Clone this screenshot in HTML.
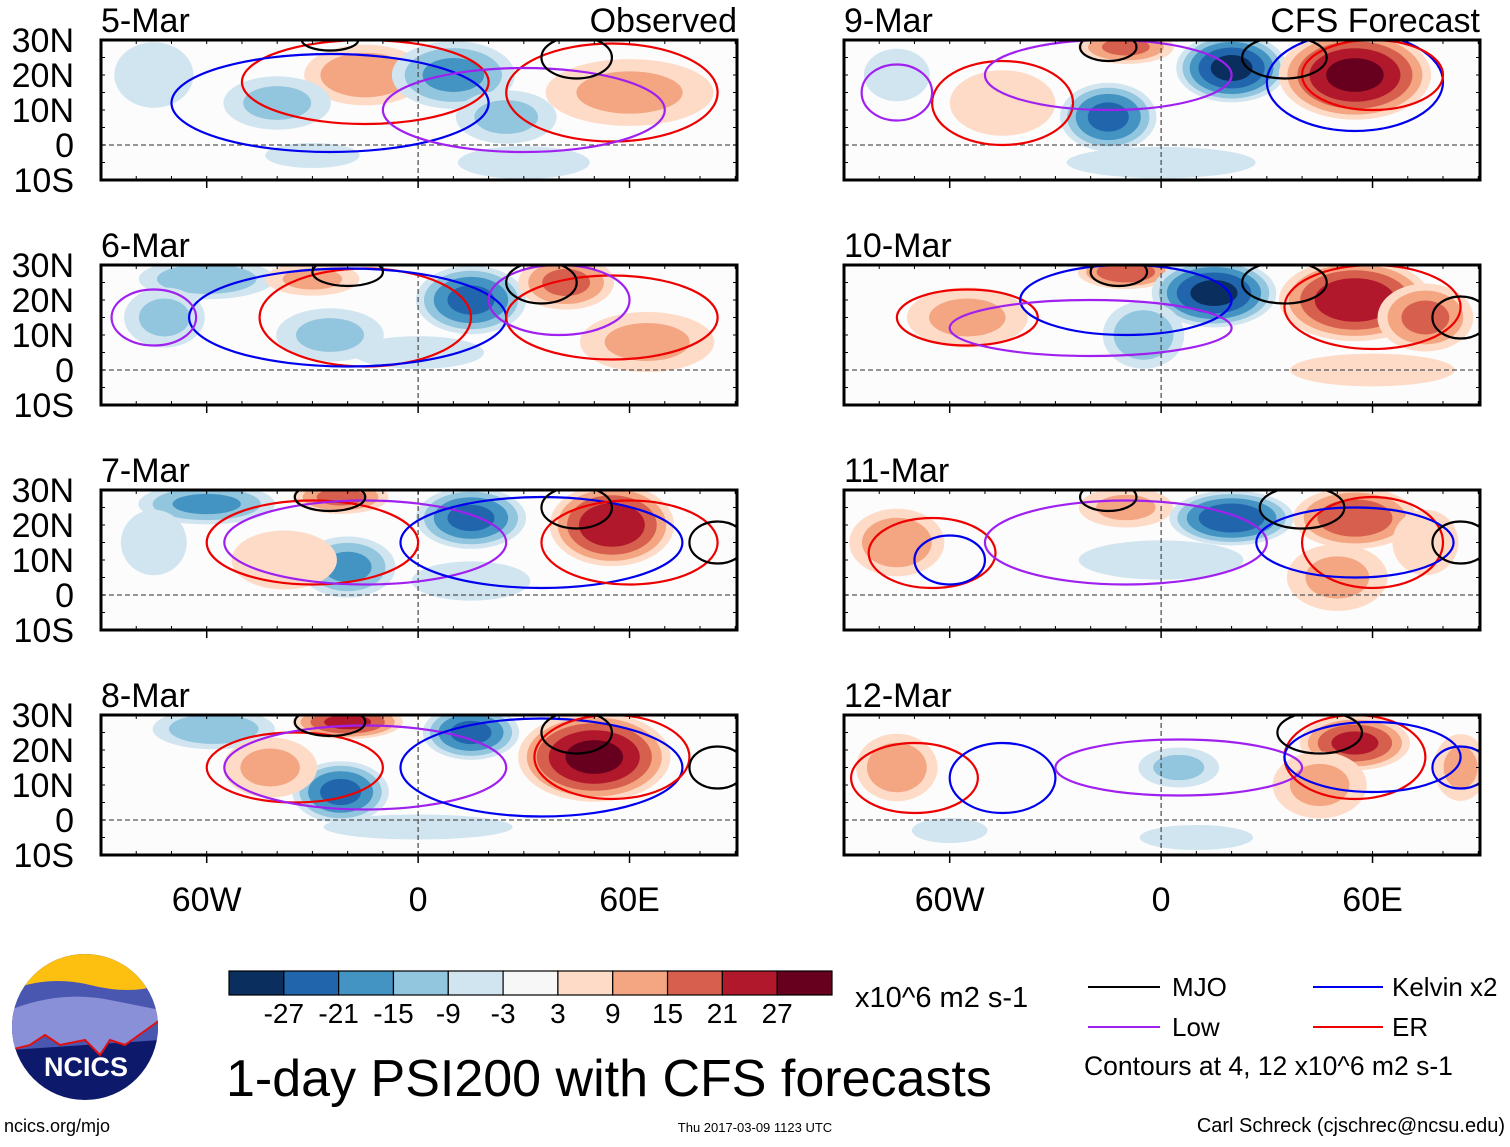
<!DOCTYPE html>
<html><head><meta charset="utf-8"><style>
body{margin:0;background:#fff;width:1510px;height:1142px;overflow:hidden;font-family:"Liberation Sans",sans-serif}
svg text{font-family:"Liberation Sans",sans-serif}
</style></head><body>
<svg id="fig" width="1510" height="1142" xmlns="http://www.w3.org/2000/svg">
<defs></defs>
<g id="panels"></g>
<g id="cbar"></g>
<text x="855" y="1007" font-size="29">x10^6 m2 s-1</text>
<text x="226" y="1096" font-size="52">1-day PSI200 with CFS forecasts</text>
<g font-size="26">
<line x1="1088" y1="987" x2="1160" y2="987" stroke="#000" stroke-width="2"/><text x="1172" y="996">MJO</text>
<line x1="1313" y1="987" x2="1383" y2="987" stroke="#0000ee" stroke-width="2"/><text x="1392" y="996">Kelvin x2</text>
<line x1="1088" y1="1027" x2="1160" y2="1027" stroke="#a020f0" stroke-width="2"/><text x="1172" y="1036">Low</text>
<line x1="1313" y1="1027" x2="1383" y2="1027" stroke="#ee0000" stroke-width="2"/><text x="1392" y="1036">ER</text>
<text x="1084" y="1075" font-size="26.5">Contours at 4, 12 x10^6 m2 s-1</text>
</g>
<g>
<clipPath id="lc"><circle cx="85" cy="1027" r="73"/></clipPath>
<g clip-path="url(#lc)">
<rect x="10" y="950" width="150" height="160" fill="#0d1a6b"/>
<rect x="10" y="950" width="150" height="40" fill="#fdbf10"/>
<path d="M10 990 Q50 975 90 985 T160 985 L160 1040 L10 1050Z" fill="#4a57b0"/>
<path d="M10 1010 Q60 990 110 1000 T160 1010 L160 1020 L125 1045 L110 1040 L100 1055 L85 1040 L60 1045 L45 1035 L30 1045 L10 1050Z" fill="#8a90d8"/>
<path d="M10 1050 L30 1045 L45 1035 L60 1045 L85 1040 L100 1055 L110 1040 L125 1045 L160 1020" fill="none" stroke="#e01010" stroke-width="2"/>
</g>
<text x="86" y="1076" font-size="27" font-weight="bold" fill="#fff" text-anchor="middle">NCICS</text>
</g>
<text x="4" y="1132" font-size="18">ncics.org/mjo</text>
<text x="755" y="1132" font-size="13" text-anchor="middle">Thu 2017-03-09 1123 UTC</text>
<text x="1505" y="1132" font-size="20" text-anchor="end">Carl Schreck (cjschrec@ncsu.edu)</text>
</svg>
<script>
const NS="http://www.w3.org/2000/svg";
const levels=[-27,-21,-15,-9,-3,3,9,15,21,27];
const colors=["#0a2f5e","#2166ac","#4393c3","#92c5de","#d1e5f0","#f7f7f7","#fddbc7","#f4a582","#d6604d","#b2182b","#67001f"];
const cbarLabels=["-27","-21","-15","-9","-3","3","9","15","21","27"];
const panelTitles=["5-Mar","6-Mar","7-Mar","8-Mar","9-Mar","10-Mar","11-Mar","12-Mar"];
const latTicks=[30,20,10,0,-10];
const latLabels=["30N","20N","10N","0","10S"];
const lonTicks=[-60,0,60];
const lonLabels=["60W","0","60E"];
// blobs: [lon, lat, spreadLon, spreadLat, value]
const blobs0=[[-15,20,18,9,12],[-40,12,16,8,-9],[10,20,18,10,-15],[25,8,15,8,-9],[60,15,25,10,9],[-75,20,12,10,-6],[30,-5,20,5,-6],[-30,-3,15,4,-3]];
const blobs1=[[-60,26,20,6,-12],[-30,26,14,5,9],[-25,10,16,8,-9],[15,20,16,10,-21],[42,25,14,8,15],[65,8,20,9,9],[-72,15,12,9,-9],[0,5,20,5,-6]];
const blobs2=[[-60,26,20,6,-15],[-22,28,14,5,15],[-20,8,14,9,-15],[15,22,16,9,-21],[55,20,18,12,24],[-38,10,16,9,6],[15,4,18,6,-6],[-75,15,10,10,-6]];
const blobs3=[[-58,26,18,6,-12],[-20,28,16,5,21],[-22,8,14,9,-21],[15,25,14,8,-21],[50,18,22,13,27],[-42,15,14,9,9],[0,-2,30,4,-3]];
const blobs4=[[-10,28,14,5,15],[20,22,16,10,-27],[-15,8,14,10,-21],[55,20,22,13,27],[-45,12,16,10,6],[-75,20,10,8,-6],[0,-5,30,5,-3]];
const blobs5=[[-10,28,14,5,18],[15,22,18,10,-27],[-5,10,12,10,-12],[55,20,22,12,24],[-55,15,18,9,9],[75,15,14,10,15],[60,0,25,5,6]];
const blobs6=[[-10,25,14,6,9],[20,22,18,8,-24],[55,22,18,9,18],[-75,15,14,10,12],[50,5,15,10,9],[0,10,25,6,-6],[75,15,10,10,6]];
const blobs7=[[5,15,12,6,-9],[55,22,16,8,21],[-75,15,12,10,12],[45,10,14,10,9],[10,-5,18,4,-3],[-60,-3,12,4,-3],[85,15,8,10,9]];
const allBlobs=[blobs0,blobs1,blobs2,blobs3,blobs4,blobs5,blobs6,blobs7];
// contours: [lon, lat, spreadLon, spreadLat, type]
const contours0=[[-15,18,35,12,"er"],[-25,12,45,14,"kelvin"],[55,15,30,14,"er"],[30,10,40,12,"low"],[45,25,10,6,"mjo"],[-25,30,8,3,"mjo"]];
const contours1=[[-15,15,30,14,"er"],[-20,15,45,14,"kelvin"],[55,15,30,12,"er"],[40,20,20,10,"low"],[35,25,10,6,"mjo"],[-20,28,10,4,"mjo"],[-75,15,12,8,"low"]];
const contours2=[[-30,15,30,12,"er"],[-15,15,40,12,"low"],[35,15,40,13,"kelvin"],[60,15,25,12,"er"],[45,25,10,6,"mjo"],[-25,28,10,4,"mjo"],[85,15,8,6,"mjo"]];
const contours3=[[-35,15,25,10,"er"],[-15,15,40,12,"low"],[35,15,40,14,"kelvin"],[55,18,22,12,"er"],[45,25,10,6,"mjo"],[-25,28,10,4,"mjo"],[85,15,8,6,"mjo"]];
const contours4=[[-45,12,20,12,"er"],[-15,20,35,10,"low"],[55,18,25,14,"kelvin"],[60,20,20,10,"er"],[35,25,12,6,"mjo"],[-15,28,8,4,"mjo"],[-75,15,10,8,"low"]];
const contours5=[[-55,15,20,8,"er"],[-10,20,30,10,"kelvin"],[60,18,25,12,"er"],[-20,12,40,8,"low"],[35,25,12,6,"mjo"],[-12,28,8,4,"mjo"],[85,15,8,6,"mjo"]];
const contours6=[[-65,12,18,10,"er"],[-60,10,10,7,"kelvin"],[-10,15,40,12,"low"],[60,15,20,13,"er"],[55,15,28,10,"kelvin"],[40,25,12,6,"mjo"],[-15,28,8,4,"mjo"],[85,15,8,6,"mjo"]];
const contours7=[[-70,12,18,10,"er"],[-45,12,15,10,"kelvin"],[5,15,35,8,"low"],[55,18,20,12,"er"],[60,18,25,10,"kelvin"],[45,25,12,6,"mjo"],[85,15,8,6,"kelvin"]];
const allContours=[contours0,contours1,contours2,contours3,contours4,contours5,contours6,contours7];
const ctColor={mjo:"#000",kelvin:"#0000ee",low:"#a020f0",er:"#ee0000"};

const panelsG=document.getElementById("panels");
const defs=document.querySelector("defs");
function el(t,a,p){const e=document.createElementNS(NS,t);for(const k in a)e.setAttribute(k,a[k]);(p||panelsG).appendChild(e);return e;}
const lefts=[101,844],tops=[40,265,490,715],W=636,H=140;
function colorIdx(v){let i=0;while(i<levels.length&&v>levels[i])i++;return i;}
for(let p=0;p<8;p++){
  const col=p<4?0:1,row=p%4,x0=lefts[col],y0=tops[row];
  const xs=lon=>x0+(lon+90)*W/180.5, ys=lat=>y0+(30-lat)*H/40;
  const sx=d=>d*W/180.5, sy=d=>d*H/40;
  const g=el("g",{});
  
  
  const cp=el("clipPath",{id:"cp"+p},defs);el("rect",{x:x0,y:y0,width:W,height:H},cp);
  const inner=el("g",{"clip-path":"url(#cp"+p+")"},g);
  el("rect",{x:x0,y:y0,width:W,height:H,fill:"#fcfcfc"},inner);
  allBlobs[p].forEach(b=>{
    const v=b[4],av=Math.abs(v),sgn=v<0?-1:1;
    const steps=[3,9,15,21,27].filter(l=>l<=av);
    steps.forEach(l=>{
      const f=Math.sqrt(1-(l-2)/(av+2));
      const e=el("ellipse",{cx:xs(b[0]),cy:ys(b[1]),rx:sx(b[2])*f,ry:sy(b[3])*f,fill:colors[colorIdx(sgn*(l+1))]},inner);
      
      
    });
  });
  el("line",{x1:x0,y1:ys(0),x2:x0+W,y2:ys(0),stroke:"#555","stroke-dasharray":"5,3","stroke-width":1.3},inner);
  el("line",{x1:xs(0),y1:y0,x2:xs(0),y2:y0+H,stroke:"#555","stroke-dasharray":"5,3","stroke-width":1.3},inner);
  allContours[p].forEach(c=>{
    const e=el("ellipse",{cx:xs(c[0]),cy:ys(c[1]),rx:sx(c[2]),ry:sy(c[3]),fill:"none",stroke:ctColor[c[4]],"stroke-width":2.2},inner);
    
    
  });
  el("rect",{x:x0,y:y0,width:W,height:H,fill:"none",stroke:"#000","stroke-width":3},g);
  for(let lon=-90;lon<=90;lon+=10){el("line",{x1:xs(lon),y1:y0,x2:xs(lon),y2:y0+4,stroke:"#000"},g);el("line",{x1:xs(lon),y1:y0+H,x2:xs(lon),y2:y0+H-4,stroke:"#000"},g);}
  for(let lat=-10;lat<=30;lat+=5){el("line",{x1:x0,y1:ys(lat),x2:x0+4,y2:ys(lat),stroke:"#000"},g);el("line",{x1:x0+W,y1:ys(lat),x2:x0+W-4,y2:ys(lat),stroke:"#000"},g);}
  lonTicks.forEach(l=>{el("line",{x1:xs(l),y1:y0+H,x2:xs(l),y2:y0+H+8,stroke:"#000","stroke-width":1.5},g);});
  const t=el("text",{x:x0,y:y0-8,"font-size":34},g);t.textContent=panelTitles[p];
  
  if(p===0){const o=el("text",{x:x0+W,y:y0-8,"font-size":34,"text-anchor":"end"},g);o.textContent="Observed";}
  if(p===4){const o=el("text",{x:x0+W,y:y0-8,"font-size":34,"text-anchor":"end"},g);o.textContent="CFS Forecast";}
  if(col===0){latTicks.forEach((l,i)=>{const tt=el("text",{x:74,y:ys(l)+12,"font-size":34,"text-anchor":"end"},g);tt.textContent=latLabels[i];});}
  if(row===3){lonTicks.forEach((l,i)=>{const tt=el("text",{x:xs(l),y:911,"font-size":34,"text-anchor":"middle"},g);tt.textContent=lonLabels[i];});}
}
const cb=document.getElementById("cbar");
const bw=603/11;
colors.forEach((c,i)=>{const r=el("rect",{x:229+i*bw,y:971,width:bw,height:24,fill:c,stroke:"#000","stroke-width":1.2},cb);});
cbarLabels.forEach((s,i)=>{const t=el("text",{x:229+(i+1)*bw,y:1023,"font-size":28,"text-anchor":"middle"},cb);t.textContent=s;});
</script>
</body></html>
